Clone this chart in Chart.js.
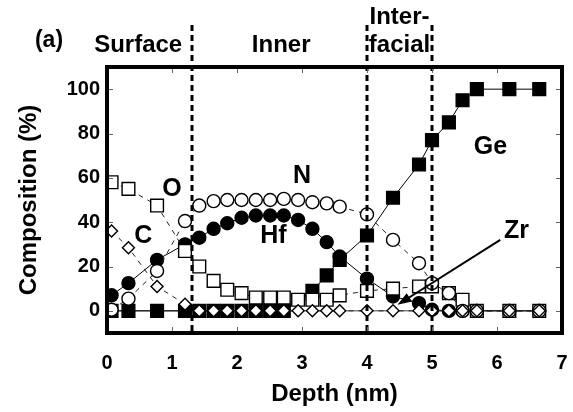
<!DOCTYPE html>
<html>
<head>
<meta charset="utf-8">
<script src="https://cdn.jsdelivr.net/npm/chart.js@4.4.1/dist/chart.umd.min.js"></script>
<style>
  html, body { margin: 0; padding: 0; background: #fff; }
  #wrap { width: 573px; height: 412px; }
</style>
</head>
<body>
<div id="wrap"><canvas id="depthProfile" width="573" height="412"></canvas></div>
<script>
// Depth profile data
const depth = [0.07, 0.33, 0.77, 1.2, 1.42, 1.64, 1.85, 2.07, 2.29, 2.51, 2.72, 2.94, 3.16, 3.38, 3.58, 4.0, 4.4, 4.8, 5.0, 5.26, 5.47, 5.69, 6.19, 6.65];
const geVals = [0, 0, 0, 0, 0, 0, 0, 0, 0, 0, 0, null, 9, 16, 23, 34, 51, 66, 77, 85, 95, 100, 100, 100];
const hfVals = [7, 12.5, 23, 30, 33, 37, 39.5, 42, 43, 43, 43, 41, 37, 31, 24.5, 14.5, 6.5, 3.5, 0.5, 0, 0, 0, 0, 0];
const nVals  = [0.5, 5.5, 18, 40.5, 47.5, 49.5, 50, 50, 50, 50, 50.5, 50, 49, 48.5, 47, 43.5, 32, 21.5, 12.5, 8, 0, 0, 0, 0];
const oVals  = [58, 55, 47.5, 27, 20, 13.5, 9.5, 8, 6, 6, 6, 5, 5, 5, 7, 9, 10, 11, 11, 8, 5, 0, 0, 0];
const cVals  = [36, 28.5, 11, 3, 0, 0, 0, 0, 0, 0, 0, 0, 0, 0, 0, 0, 0, 0, 0, 0, 0, 0, 0, 0];
const zrVals = [0, 0, 0, 0, 0, 0, 0, 0, 0, 0, 0, 0, 0, 0, 0, 0, 0, 0, 0, 0, 0, 0, 0, 0];

const xTicks = [0, 1, 2, 3, 4, 5, 6, 7];
const yTicks = [0, 20, 40, 60, 80, 100];
const boundaries = [1.3, 4.0, 5.0];

const FONT = '"Liberation Sans", Arial, Helvetica, sans-serif';

function toPoints(vals) {
  return depth.map((x, i) => ({ x: x, y: vals[i] }));
}

function series(label, vals, style) {
  return Object.assign({
    label: label,
    data: toPoints(vals),
    borderColor: '#000',
    borderWidth: 1,
    pointBorderColor: '#000',
    pointBorderWidth: 1.4,
    pointBackgroundColor: '#fff',
    tension: 0,
    fill: false
  }, style);
}

// index 0 ends up on top
const datasets = [
  series('C', cVals, { borderColor: '#222', borderDash: [5, 5], pointStyle: 'rectRot', pointRadius: 6 }),
  series('N', nVals, { borderColor: '#222', borderDash: [5, 5], pointStyle: 'circle', pointRadius: 6.5 }),
  series('O', oVals, { borderColor: '#222', borderDash: [5, 5], pointStyle: 'rect', pointRadius: 9 }),
  series('Hf', hfVals, { pointStyle: 'circle', pointRadius: 6.5, pointBackgroundColor: '#000' }),
  series('Ge', geVals, { pointStyle: 'rect', pointRadius: 9, pointBackgroundColor: '#000', spanGaps: true }),
  series('Zr', zrVals, { borderColor: '#444', pointRadius: 0 })
];

// element labels, in data units
const elementLabels = [
  { text: 'O', x: 1.0, y: 55 },
  { text: 'C', x: 0.56, y: 33.5 },
  { text: 'N', x: 3.0, y: 61 },
  { text: 'Hf', x: 2.56, y: 33.5 },
  { text: 'Ge', x: 5.9, y: 74 },
  { text: 'Zr', x: 6.3, y: 36 }
];

const decor = {
  id: 'decor',
  afterDatasetsDraw(chart) {
    const { ctx, chartArea, scales } = chart;
    ctx.save();
    ctx.strokeStyle = '#000';
    ctx.lineWidth = 3;
    ctx.setLineDash([6, 4]);
    boundaries.forEach(b => {
      const px = Math.round(scales.x.getPixelForValue(b));
      ctx.beginPath();
      ctx.moveTo(px, 25);
      ctx.lineTo(px, chartArea.bottom);
      ctx.stroke();
    });
    ctx.restore();
  },
  afterDraw(chart) {
    const { ctx, chartArea, scales } = chart;
    const { left, right, top, bottom } = chartArea;
    ctx.save();

    // inward tick marks
    ctx.strokeStyle = '#666';
    ctx.lineWidth = 1;
    xTicks.forEach(v => {
      const px = Math.round(scales.x.getPixelForValue(v)) + 0.5;
      ctx.beginPath();
      ctx.moveTo(px, bottom); ctx.lineTo(px, bottom - 6);
      ctx.moveTo(px, top); ctx.lineTo(px, top + 6);
      ctx.stroke();
    });
    yTicks.forEach(v => {
      const py = Math.round(scales.y.getPixelForValue(v)) + 0.5;
      ctx.beginPath();
      ctx.moveTo(left, py); ctx.lineTo(left + 6, py);
      ctx.moveTo(right, py); ctx.lineTo(right - 6, py);
      ctx.stroke();
    });

    // frame
    ctx.strokeStyle = '#000';
    ctx.lineWidth = 4;
    ctx.strokeRect(left, top, right - left, bottom - top);

    // arrow to Zr
    const x0 = scales.x.getPixelForValue(6.05), y0 = scales.y.getPixelForValue(32);
    const x1 = scales.x.getPixelForValue(4.47), y1 = scales.y.getPixelForValue(2.7);
    const ang = Math.atan2(y1 - y0, x1 - x0);
    ctx.lineWidth = 2;
    ctx.beginPath();
    ctx.moveTo(x0, y0);
    ctx.lineTo(x1 - 10 * Math.cos(ang), y1 - 10 * Math.sin(ang));
    ctx.stroke();
    ctx.fillStyle = '#000';
    ctx.beginPath();
    ctx.moveTo(x1, y1);
    ctx.lineTo(x1 - 14 * Math.cos(ang) + 5 * Math.sin(ang), y1 - 14 * Math.sin(ang) - 5 * Math.cos(ang));
    ctx.lineTo(x1 - 14 * Math.cos(ang) - 5 * Math.sin(ang), y1 - 14 * Math.sin(ang) + 5 * Math.cos(ang));
    ctx.closePath();
    ctx.fill();

    // texts
    ctx.fillStyle = '#000';
    ctx.textAlign = 'center';
    ctx.textBaseline = 'middle';
    ctx.font = 'bold 25px ' + FONT;
    elementLabels.forEach(l => {
      ctx.fillText(l.text, scales.x.getPixelForValue(l.x), scales.y.getPixelForValue(l.y));
    });

    ctx.font = 'bold 24px ' + FONT;
    ctx.fillText('Surface', scales.x.getPixelForValue(0.48), 45);
    ctx.fillText('Inner', scales.x.getPixelForValue(2.68), 45);
    ctx.fillText('Inter-', scales.x.getPixelForValue(4.5), 17);
    ctx.fillText('facial', scales.x.getPixelForValue(4.5), 45);
    ctx.font = 'bold 23px ' + FONT;
    ctx.fillText('(a)', 49, 41);
    ctx.restore();
  }
};

new Chart(document.getElementById('depthProfile'), {
  type: 'line',
  data: { datasets: datasets },
  options: {
    responsive: false,
    animation: false,
    devicePixelRatio: 1,
    layout: { padding: { top: 67, right: 11, left: 0, bottom: 0 } },
    plugins: {
      legend: { display: false },
      tooltip: { enabled: false }
    },
    scales: {
      x: {
        type: 'linear',
        min: 0,
        max: 7,
        afterBuildTicks: s => { s.ticks = xTicks.map(v => ({ value: v })); },
        afterFit: s => { s.height = 79; s.paddingLeft = 0; s.paddingRight = 0; },
        grid: { display: false, drawTicks: false },
        border: { display: false },
        ticks: { color: '#000', padding: 18, font: { family: FONT, size: 20, weight: 'bold' } },
        title: {
          display: true,
          text: 'Depth (nm)',
          color: '#000',
          padding: { top: 0, bottom: 3 },
          font: { family: FONT, size: 24, weight: 'bold' }
        }
      },
      y: {
        type: 'linear',
        min: -10,
        max: 110,
        afterBuildTicks: s => { s.ticks = yTicks.map(v => ({ value: v })); },
        afterFit: s => { s.width = 107; s.paddingTop = 0; s.paddingBottom = 0; },
        grid: { display: false, drawTicks: false },
        border: { display: false },
        ticks: { color: '#000', padding: 7, font: { family: FONT, size: 20, weight: 'bold' } },
        title: {
          display: true,
          text: 'Composition (%)',
          color: '#000',
          padding: { top: 15, bottom: 0 },
          font: { family: FONT, size: 24, weight: 'bold' }
        }
      }
    }
  },
  plugins: [decor]
});
</script>
</body>
</html>
